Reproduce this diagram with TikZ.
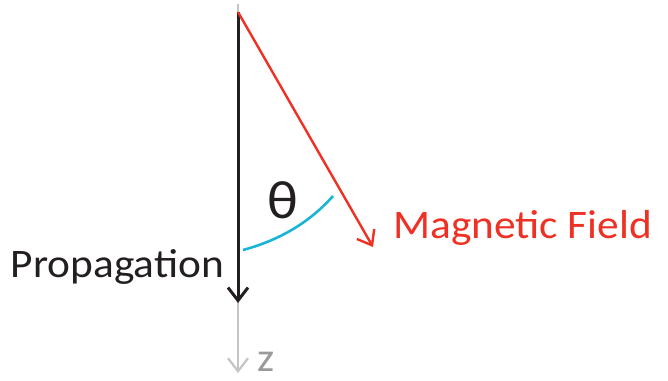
\documentclass[tikz,border=0pt]{standalone}
\usepackage{fontspec}
\setmainfont{Carlito}[FakeStretch=1.07]
\usetikzlibrary{arrows.meta}
\definecolor{fieldred}{HTML}{EE3124}
\definecolor{anglecyan}{HTML}{1AB4D7}
\definecolor{axisgray}{HTML}{C4C4C4}
\definecolor{labelgray}{HTML}{9A9A9A}
\definecolor{propblack}{HTML}{231F20}
\tikzset{
  barb/.style={-{Straight Barb[length=13pt,width=20pt]}},
  lbl/.style={font=\fontsize{40.5}{44}\selectfont, inner sep=0pt}
}

\begin{document}
\begin{tikzpicture}[x=1pt, y=-1pt]
  \useasboundingbox (0,0) rectangle (668,380);
  \coordinate (top) at (238,12);
  \coordinate (axtop) at (238,4);
  \coordinate (axend) at (238,373);
  \coordinate (propend) at (238,303);
  \coordinate (fieldend) at (373,247);
  \coordinate (arcstart) at (243,250);
  \coordinate (arcend) at (333,196);

  \draw[axisgray, line width=2.2pt, barb] (axtop) -- (axend);
  \draw[propblack, line width=3pt, barb] (top) -- (propend);
  \draw[fieldred, line width=2.4pt, barb] (top) -- (fieldend);
  \draw[anglecyan, line width=2.6pt] (arcstart) .. controls (280,240) and (310,222) .. (arcend);

  \node[lbl, propblack, anchor=base east] (prop) at (224,277) {Propagation};
  \node[lbl, fieldred, anchor=base west] (field) at (393,238) {Magnetic Field};
  \node[lbl, labelgray, anchor=base west] (zlabel) at (257,371) {z};
  \node[font=\fontsize{54}{58}\selectfont, propblack, inner sep=0pt] (theta) at (283,200) {θ};
\end{tikzpicture}
\end{document}
